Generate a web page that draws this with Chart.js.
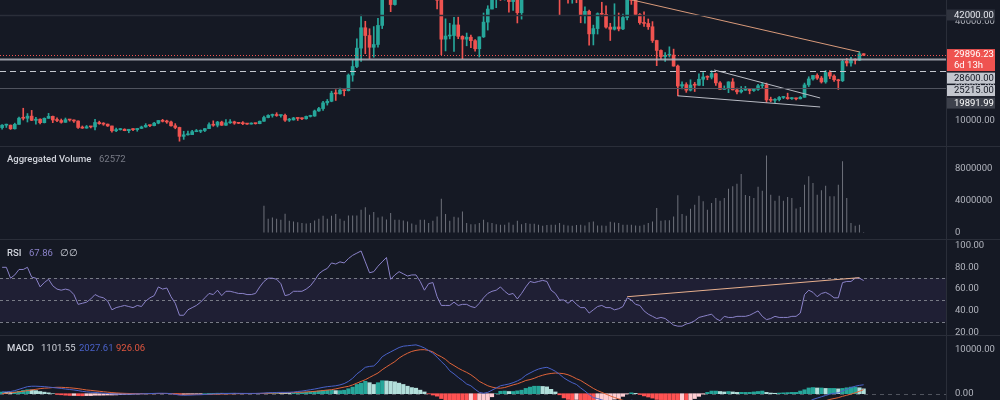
<!DOCTYPE html>
<html>
<head>
<meta charset="utf-8">
<script src="https://cdn.jsdelivr.net/npm/chart.js@4.4.1/dist/chart.umd.min.js"></script>
<style>
  body { margin: 0; background: #151924; }
  #wrap { position: relative; width: 1000px; height: 400px; overflow: hidden; background: #151924; font-family: Roboto, sans-serif; }
  #wrap canvas { position: absolute; left: 0; }
  .sep { position: absolute; left: 0; width: 1000px; height: 1px; background: #2a2e39; }
  .vsep { position: absolute; left: 946px; top: 0; width: 1px; height: 400px; background: #2a2e39; }
  .leg { position: absolute; font-size: 9.5px; line-height: 12px; white-space: nowrap; color: #d1d4dc; }
  .b { font-weight: 500; }
</style>
</head>
<body>
<div id="wrap">
  <canvas id="price" width="1000" height="146" style="top:0"></canvas>
  <canvas id="vol" width="1000" height="92" style="top:147px"></canvas>
  <canvas id="rsi" width="1000" height="95" style="top:240px"></canvas>
  <canvas id="macd" width="1000" height="64" style="top:336px"></canvas>
  <div class="sep" style="top:146px"></div>
  <div class="sep" style="top:239px"></div>
  <div class="sep" style="top:335px"></div>
  <div class="vsep"></div>

  <div class="leg b" style="left:7px;top:153px">Aggregated Volume</div>
  <div class="leg" style="left:99px;top:153px;color:#787b86">62572</div>

  <div class="leg b" style="left:7px;top:247px">RSI</div>
  <div class="leg" style="left:29px;top:247px;color:#8a82c8">67.86</div>
  <div class="leg" style="left:60px;top:247px">∅</div>
  <div class="leg" style="left:69px;top:247px">∅</div>

  <div class="leg b" style="left:7px;top:342px">MACD</div>
  <div class="leg" style="left:41px;top:342px">1101.55</div>
  <div class="leg" style="left:79px;top:342px;color:#4a62c9">2027.61</div>
  <div class="leg" style="left:116px;top:342px;color:#e0563f">926.06</div>
</div>

<script>
// weekly candles, index 0 = first week on the left; 224 slots incl. empty space on the right
const slotCount = 224;

const openP = [
  8000,8730,8740,7650,8990,10850,10820,11470,10200,10550,
  9500,10800,11400,10300,10150,9600,10400,10300,10000,8050,
  7860,8280,8220,9550,9200,9050,8500,7050,7400,7510,
  7070,7500,7390,7760,8190,8700,8600,9350,10150,9900,
  9700,8550,8050,5360,5830,5880,6780,6900,7130,7700,
  8900,8720,9670,8720,9450,9750,9350,9300,9180,9070,
  9250,9200,9930,11050,11680,11900,11650,11700,10250,10330,
  10920,10770,10670,11380,11500,13030,13750,15480,15950,18400,
  18200,19350,19150,23850,26450,32000,38150,35800,32250,33100,
  38850,48550,57400,45150,51000,59000,57350,55800,57050,59750,
  56150,49050,56600,58200,46450,34700,35650,35800,39000,35550,
  34700,35300,34250,31800,35400,39850,43800,47050,49250,48850,
  51750,46050,48300,42700,48200,54950,61500,60850,61300,63300,
  65500,59700,57200,49400,50100,46700,50800,47300,41850,43100,
  36300,37900,42400,42200,38350,37700,38400,37800,41250,46800,
  46400,42150,39700,39450,38450,34300,31300,29450,29850,29900,
  26580,20550,21000,19300,20850,20800,22600,23300,23200,24300,
  21500,19550,19800,21800,19400,18800,19300,19450,19200,19550,
  20650,20900,16350,16250,16450,17100,17100,16750,16850,16700,
  17150,20900,22700,23750,22950,21800,24650,23550,22450,22150,
  28000,27500,28450,28350,30300
];
const highP = [
  8950,9070,8800,9350,11200,13850,12250,13200,11100,10650,
  10950,12300,11500,10950,10600,10900,10450,10350,10050,8500,
  8650,8400,10500,9950,9500,9100,8500,7850,7750,7650,
  7500,7700,7800,8450,9200,8750,9600,10150,10500,10250,
  9950,9200,8150,6900,6950,7200,7450,7300,7750,9450,
  10050,9900,9950,10400,10400,9950,9600,9800,9300,9450,
  9350,10000,11450,11900,12100,12500,11800,12100,10800,11100,
  10980,10950,11500,11750,13300,14100,15950,16500,19000,19450,
  19900,19450,24200,28400,34800,42000,40100,37850,38500,41000,
  49700,58350,57500,52650,61800,60650,58400,60200,61300,64850,
  57500,58000,59500,59600,46650,40850,39500,41300,41350,35750,
  36550,35950,34600,35400,42600,44800,48150,49400,50500,52900,
  52950,48850,48300,49200,56500,62000,67000,63700,64250,69000,
  66300,59900,59200,51950,50200,51900,52100,47550,44450,43500,
  38950,42650,45850,44750,39500,45400,42600,42300,46950,48200,
  47150,42450,42950,40800,40000,34400,31450,30650,32400,31700,
  26900,21850,21550,22450,21650,24250,24650,23650,25200,24450,
  21900,20600,21850,22800,19950,20400,20450,19550,19700,21100,
  21450,21450,17200,16800,17400,17400,18400,17100,16950,17400,
  21450,23350,23800,24250,23450,25250,25200,23900,22600,28450,
  28900,29200,28800,30950,30350
];
const lowP = [
  7500,8050,7450,7550,8980,10300,9700,10100,9050,9150,
  9400,10800,9500,9800,9350,9600,9950,9600,7750,7750,
  7800,7900,7300,9000,8700,8350,6600,6800,7250,7050,
  6450,7050,6900,7700,8100,8250,8550,9150,9700,9300,
  8450,7650,3900,4450,5700,5860,6750,6480,6800,7680,
  8400,8200,8650,8650,9250,9000,9200,8900,8950,9050,
  9050,9150,9900,10950,11150,11400,11150,9900,9850,10250,
  10150,10400,10550,11200,11400,12900,13200,14800,15800,16200,
  18100,17600,19050,22000,26100,28000,30300,28850,29250,32300,
  37900,47100,43000,45000,49300,53300,50400,55600,55450,51000,
  47000,48800,53000,43800,30000,31150,34800,31000,34850,28800,
  32700,32100,31100,29300,35200,37450,43800,44200,46400,46500,
  42850,43400,39600,40750,46950,54200,59500,57800,59500,62300,
  55600,53250,42000,47100,45550,45550,45700,39650,39500,32900,
  32950,36250,41700,38000,34300,37450,37200,37550,40500,45200,
  41900,39200,38550,37650,33700,26700,28650,28000,29300,26550,
  17600,19650,18650,19050,18900,20750,20700,22450,22700,20750,
  19550,19550,18550,19350,18150,18450,19250,18200,18900,19250,
  20050,15600,15800,15500,16050,16750,16550,16550,16350,16650,
  17150,20400,22300,22550,21450,21400,22750,21950,19550,21900,
  26600,26550,27200,28200,29750
];
const closeP = [
  8730,8740,7650,8990,10850,10820,11470,10200,10550,9500,
  10800,11400,10300,10150,9600,10400,10300,10000,8050,7860,
  8280,8220,9550,9200,9050,8500,7050,7400,7510,7070,
  7500,7390,7760,8190,8700,8600,9350,10150,9900,9700,
  8550,8050,5360,5830,5880,6780,6900,7130,7700,8900,
  8720,9670,8720,9450,9750,9350,9300,9180,9070,9250,
  9200,9930,11050,11680,11900,11650,11700,10250,10330,10920,
  10770,10670,11380,11500,13030,13750,15480,15950,18400,18200,
  19350,19150,23850,26450,32000,38150,35800,32250,33100,38850,
  48550,57400,45150,51000,59000,57350,55800,57050,59750,56150,
  49050,56600,58200,46450,34700,35650,35800,39000,35550,34700,
  35300,34250,31800,35400,39850,43800,47050,49250,48850,51750,
  46050,48300,42700,48200,54950,61500,60850,61300,63300,65500,
  59700,57200,49400,50100,46700,50800,47300,41850,43100,36300,
  37900,42400,42200,38350,37700,38400,37800,41250,46800,46400,
  42150,39700,39450,38450,34300,31300,29450,29850,29900,26580,
  20550,21000,19300,20850,20800,22600,23300,23200,24300,21500,
  19550,19800,21800,19400,18800,19300,19450,19200,19550,20650,
  20900,16350,16250,16450,17100,17100,16750,16850,16700,17150,
  20900,22700,23750,22950,21800,24650,23550,22450,22150,28000,
  27500,28450,28350,30300,29896.23
];

// aggregated volume only exists from week 62 on
const volumeStart = 62;
const volume = [
  3330000,1710000,1880000,1710000,1580000,2330000,1460000,1380000,1290000,1170000,
  1130000,1170000,1500000,1710000,2080000,1710000,2080000,2290000,1710000,1460000,
  2130000,2130000,2130000,2830000,3130000,2210000,2540000,1880000,2000000,1630000,
  2420000,1580000,1580000,1500000,1380000,1130000,960000,1580000,1580000,1170000,
  1460000,2000000,4210000,2290000,1460000,1960000,1880000,2630000,1170000,1040000,
  1040000,1170000,1580000,1290000,1170000,1040000,960000,
  960000,1250000,960000,1460000,1040000,1170000,1080000,1080000,960000,830000,
  920000,960000,960000,1170000,960000,880000,830000,920000,960000,880000,
  1290000,1380000,880000,880000,830000,1330000,1250000,1170000,960000,960000,
  960000,880000,830000,960000,1170000,1380000,3040000,1460000,1540000,1540000,
  2000000,4630000,2290000,2080000,2960000,3460000,4580000,3880000,2830000,3670000,
  4290000,3960000,4290000,5460000,5750000,6080000,7290000,4670000,4540000,4290000,
  5710000,5210000,9580000,4710000,3960000,4580000,3960000,4420000,4290000,3000000,
  3170000,5960000,7000000,6170000,4710000,5250000,5830000,4500000,4500000,5960000,
  8880000,4290000,1170000,830000,960000,62572
];

const rsi = [
  80,80,70,73,78,78,80,71,70,62,
  66,69,63,60,59,60,59,55,46,47,
  48,51,55,53,52,49,41,43,44,45,
  44,43,45,44,49,52,54,62,60,61,
  53,47,36,36,41,43,45,48,52,56,
  55,59,54,58,58,57,56,56,55,55,
  56,62,67,70,70,69,65,54,55,58,
  58,58,60,63,68,74,77,79,84,83,
  85,84,88,91,93,95,85,75,76,81,
  85,89,69,73,76,74,72,73,73,67,
  59,65,66,53,45,45,45,48,45,46,
  46,44,43,47,52,56,58,59,62,58,
  55,56,51,56,62,67,66,67,68,67,
  59,56,50,50,47,50,46,43,43,38,
  41,44,45,43,43,41,42,44,52,50,
  46,45,40,37,35,33,34,33,30,27,
  26,26,28,29,31,34,35,36,37,33,
  31,35,34,34,35,35,35,36,38,40,
  35,32,33,35,34,34,34,35,35,38,
  55,59,57,53,56,57,55,52,52,66,
  67,67,70,70,67.86
];
const rsiLevels = [70, 50, 30];

const macdLine = [
  380,420,500,700,1000,1300,1600,1700,1700,1650,
  1600,1500,1400,1300,1200,1060,950,850,700,530,
  420,330,300,200,120,50,-50,-100,-100,-100,
  -100,-80,-50,-30,0,30,60,100,100,80,
  0,-150,-300,-350,-330,-300,-250,-230,-180,-100,
  -50,0,20,40,60,75,75,70,60,60,
  70,100,150,220,250,280,300,300,320,380,
  500,600,750,900,1060,1250,1450,1600,1700,1800,
  2000,2300,2800,3500,4500,5200,6000,6200,6300,7200,
  8400,9000,9500,10000,10500,10800,10900,11000,11100,10800,
  10400,9800,9200,8300,7300,6400,5200,4500,3700,3000,
  2200,1800,1000,300,100,300,800,1300,1800,2000,
  2200,2500,2900,3400,4200,4700,5200,5600,5850,6000,
  5600,5100,4400,3600,3000,2500,2100,1300,600,-200,
  -900,-1100,-1400,-1700,-2000,-2100,-2300,-2100,-1700,-1500,
  -1600,-1900,-2300,-2700,-3200,-3800,-4200,-4600,-5000,-5400,
  -6100,-6500,-6900,-6900,-6800,-6500,-6100,-5700,-5300,-5200,
  -5200,-5200,-5000,-5000,-5000,-4900,-4800,-4700,-4500,-4300,
  -4100,-4300,-4400,-4400,-4300,-4200,-4100,-4000,-3900,-3400,
  -2600,-1800,-1300,-1000,-700,-400,-100,100,200,600,
  1000,1400,1700,1900,2027.61
];
const macdSignal = [
  0,100,200,300,450,550,700,850,1000,1150,
  1250,1300,1400,1450,1450,1400,1350,1250,1150,1000,
  850,760,650,550,450,350,250,180,120,80,
  50,20,0,-10,-10,0,10,30,40,50,
  40,0,-60,-120,-160,-180,-190,-190,-180,-160,
  -140,-110,-80,-60,-40,-20,0,10,20,30,
  40,50,70,100,120,150,180,200,230,260,
  300,350,400,460,530,620,720,820,910,1100,
  1300,1500,1670,2000,2400,2800,3180,3700,4200,4700,
  5450,6100,6700,7300,8100,8700,9200,9610,9850,9990,
  10000,9840,9500,8860,8400,7800,6960,6400,5800,5300,
  4850,4300,3600,2800,2300,1800,1500,1300,1250,1400,
  1700,2000,2250,2600,3000,3200,3500,3900,4200,4450,
  4600,4700,4650,4550,4300,3900,3400,3000,2400,1800,
  1200,700,300,-100,-500,-850,-1200,-1500,-1650,-1700,
  -1680,-1720,-1800,-1950,-2200,-2500,-2850,-3200,-3550,-3900,
  -4300,-4700,-5050,-5400,-5700,-5900,-6000,-6000,-5900,-5800,
  -5700,-5600,-5500,-5400,-5300,-5200,-5100,-5000,-4900,-4800,
  -4700,-4600,-4550,-4500,-4450,-4400,-4350,-4300,-4200,-4000,
  -3500,-3100,-2700,-2300,-2000,-1600,-1300,-1100,-900,-600,
  -350,-100,200,550,926.06
];
const macdHist = macdLine.map((v, i) => v - macdSignal[i]);

// horizontal levels on the price pane
const levelPrices = [42000, 28600, 25215, 19891.99];
const lastPrice = 29896.23;
const countdown = '6d 13h';

// drawn trend lines: week index / value pairs
const trendTopX = [149, 203];
const trendTopY = [46600, 30850];
const wedgeUpX = [168.6, 193.7];
const wedgeUpY = [25400, 16950];
const wedgeLowX = [160, 193.7];
const wedgeLowY = [17600, 14230];
const rsiTrendX = [148, 203];
const rsiTrendY = [53, 70.5];

const priceTicks = [10000, 20000, 30000, 40000];
const volTicks = [0, 4000000, 8000000];
const rsiTicks = [20, 40, 60, 80, 100];
const macdTicks = [0, 10000];

const UP = '#26a69a';
const DOWN = '#ef5350';

Chart.defaults.font.family = 'Roboto';
Chart.defaults.animation = false;

function pts(xs, ys) { return xs.map((x, k) => ({x: x, y: ys[k]})); }

function paneOptions(yMin, yMax, ticks, fmt) {
  return {
    responsive: false,
    devicePixelRatio: 1,
    animation: false,
    events: [],
    layout: {padding: 0},
    plugins: {legend: {display: false}, tooltip: {enabled: false}},
    scales: {
      x: {type: 'linear', min: -0.5, max: slotCount - 0.5, offset: false, display: false},
      y: {
        position: 'right', min: yMin, max: yMax, stacked: false,
        grid: {display: false, drawTicks: false},
        border: {display: false},
        afterBuildTicks: s => { s.ticks = ticks.map(v => ({value: v})); },
        afterFit: s => { s.width = 54; s.paddingTop = 0; s.paddingBottom = 0; },
        ticks: {padding: 9, color: '#b2b5be', font: {size: 9.5}, autoSkip: false, callback: fmt}
      }
    }
  };
}

function trendLine(data, color) {
  return {type: 'line', data: data, borderColor: color, borderWidth: 1, pointRadius: 0, fill: false, order: -1};
}

// ---------- price pane ----------
const levelStyles = [
  {line: '#2a2e39', width: 1.5, dash: [], bg: '#2f333e', fg: '#e6e8ee'},
  {line: 'rgba(178,181,190,0.85)', width: 2, dash: [], bg: '#c3c6ce', fg: '#131722'},
  {line: '#c5c8cf', width: 1, dash: [6, 4], bg: '#c3c6ce', fg: '#131722'},
  {line: '#50535e', width: 1, dash: [], bg: '#3d414c', fg: '#ffffff'}
];

const priceOverlay = {
  id: 'priceOverlay',
  afterDatasetsDraw(chart) {
    const {ctx, chartArea: a, scales: {y}} = chart;
    ctx.save();
    levelPrices.forEach((v, k) => {
      const st = levelStyles[k];
      const py = Math.round(y.getPixelForValue(v)) + 0.5;
      ctx.strokeStyle = st.line; ctx.lineWidth = st.width; ctx.setLineDash(st.dash);
      ctx.beginPath(); ctx.moveTo(a.left, py); ctx.lineTo(a.right, py); ctx.stroke();
    });
    const py = Math.round(y.getPixelForValue(lastPrice)) + 0.5;
    ctx.strokeStyle = DOWN; ctx.lineWidth = 1; ctx.setLineDash([1, 2]);
    ctx.beginPath(); ctx.moveTo(a.left, py); ctx.lineTo(a.right, py); ctx.stroke();
    ctx.restore();
  },
  afterDraw(chart) {
    const {ctx, chartArea: a, scales: {y}} = chart;
    const items = levelPrices.map((v, k) => ({v: v, h: 11, bg: levelStyles[k].bg, fg: levelStyles[k].fg, lines: [v.toFixed(2)]}));
    items.push({v: lastPrice, h: 22, bg: DOWN, fg: '#ffffff', lines: [lastPrice.toFixed(2), countdown]});
    items.forEach(it => { it.py = y.getPixelForValue(it.v); });
    items.sort((p, q) => p.py - q.py);
    ctx.save();
    ctx.font = '9.5px Roboto';
    ctx.textBaseline = 'middle';
    ctx.textAlign = 'left';
    let prevBottom = -Infinity;
    items.forEach(it => {
      let top = it.py - (it.lines.length > 1 ? 6 : 5.5);
      if (top < prevBottom + 1.5) top = prevBottom + 1.5;
      ctx.fillStyle = it.bg;
      ctx.fillRect(a.right + 1, top, 48, it.h);
      ctx.fillStyle = it.fg;
      it.lines.forEach((t, n) => ctx.fillText(t, a.right + 8, top + 5.8 + n * 11));
      prevBottom = top + it.h;
    });
    ctx.restore();
  }
};

const candleColor = i => (closeP[i] >= openP[i] ? UP : DOWN);

new Chart(document.getElementById('price'), {
  type: 'bar',
  data: {
    datasets: [
      {
        data: closeP.map((c, i) => ({x: i, y: [openP[i], c]})),
        stack: 'ohlc', barThickness: 3, minBarLength: 1,
        backgroundColor: ctx => candleColor(ctx.dataIndex)
      },
      {
        data: closeP.map((c, i) => ({x: i, y: [lowP[i], highP[i]]})),
        stack: 'ohlc', barThickness: 1,
        backgroundColor: ctx => candleColor(ctx.dataIndex)
      },
      trendLine(pts(trendTopX, trendTopY), '#d99a7a'),
      trendLine(pts(wedgeUpX, wedgeUpY), '#b8bbc4'),
      trendLine(pts(wedgeLowX, wedgeLowY), '#b8bbc4')
    ]
  },
  options: paneOptions(2451, 46528, priceTicks, v => v.toFixed(2)),
  plugins: [priceOverlay]
});

// ---------- volume pane ----------
new Chart(document.getElementById('vol'), {
  type: 'bar',
  data: {
    datasets: [{
      data: volume.map((v, k) => ({x: volumeStart + k, y: v})),
      barThickness: 1,
      inflateAmount: 0,
      backgroundColor: 'rgba(140,143,152,0.75)'
    }]
  },
  options: paneOptions(-809000, 10647000, volTicks, v => String(v))
});

// ---------- RSI pane ----------
const rsiBands = {
  id: 'rsiBands',
  beforeDatasetsDraw(chart) {
    const {ctx, chartArea: a, scales: {y}} = chart;
    const top = y.getPixelForValue(rsiLevels[0]);
    const bot = y.getPixelForValue(rsiLevels[rsiLevels.length - 1]);
    ctx.save();
    ctx.fillStyle = 'rgba(126,87,194,0.1)';
    ctx.fillRect(a.left, top, a.right - a.left, bot - top);
    ctx.strokeStyle = '#787b86';
    ctx.lineWidth = 1;
    ctx.setLineDash([3, 3]);
    rsiLevels.forEach(v => {
      const py = Math.round(y.getPixelForValue(v)) + 0.5;
      ctx.beginPath(); ctx.moveTo(a.left, py); ctx.lineTo(a.right, py); ctx.stroke();
    });
    ctx.restore();
  }
};

new Chart(document.getElementById('rsi'), {
  type: 'line',
  data: {
    datasets: [
      {data: rsi.map((v, i) => ({x: i, y: v})), borderColor: '#8a82c8', borderWidth: 1, pointRadius: 0, tension: 0},
      trendLine(pts(rsiTrendX, rsiTrendY), '#e8b08e')
    ]
  },
  options: paneOptions(17.89, 105.05, rsiTicks, v => v.toFixed(2)),
  plugins: [rsiBands]
});

// ---------- MACD pane ----------
const zeroLine = {
  id: 'zeroLine',
  beforeDatasetsDraw(chart) {
    const {ctx, chartArea: a, scales: {y}} = chart;
    const py = Math.round(y.getPixelForValue(0)) + 0.5;
    ctx.save();
    ctx.strokeStyle = 'rgba(120,123,134,0.6)';
    ctx.lineWidth = 1;
    ctx.setLineDash([4, 4]);
    ctx.beginPath(); ctx.moveTo(a.left, py); ctx.lineTo(a.right, py); ctx.stroke();
    ctx.restore();
  }
};

function histColor(i) {
  const h = macdHist[i];
  const prev = i > 0 ? macdHist[i - 1] : 0;
  if (h >= 0) return h >= prev ? '#26a69a' : '#b2dfdb';
  return h < prev ? '#ff5252' : '#ffcdd2';
}

new Chart(document.getElementById('macd'), {
  type: 'bar',
  data: {
    datasets: [
      {
        data: macdHist.map((v, i) => ({x: i, y: v})),
        barThickness: 3.5,
        backgroundColor: ctx => histColor(ctx.dataIndex),
        order: 2
      },
      {type: 'line', data: macdLine.map((v, i) => ({x: i, y: v})), borderColor: '#4a62c9', borderWidth: 1, pointRadius: 0, order: 0},
      {type: 'line', data: macdSignal.map((v, i) => ({x: i, y: v})), borderColor: '#e0643a', borderWidth: 1, pointRadius: 0, order: 1}
    ]
  },
  options: paneOptions(-1432, 13114, macdTicks, v => v.toFixed(2)),
  plugins: [zeroLine]
});
</script>
</body>
</html>
